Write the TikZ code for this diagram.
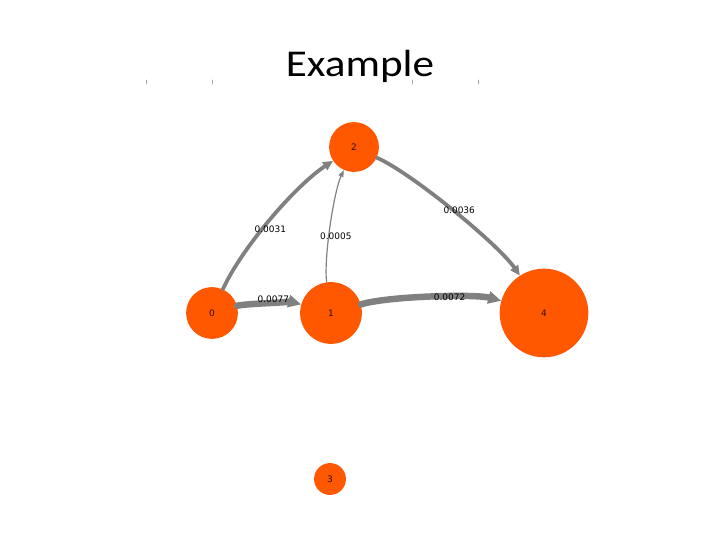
\documentclass[tikz,border=0pt]{standalone}
\usepackage{fontspec}
\setmainfont{Carlito}
\newfontfamily\labelfont{DejaVu Sans}
\usetikzlibrary{arrows.meta}
\definecolor{vertorange}{RGB}{255,88,0}
\definecolor{linkgray}{RGB}{128,128,128}
\definecolor{vertink}{RGB}{50,10,0}
\begin{document}
\begin{tikzpicture}[x=1bp,y=-1bp,line cap=round,line join=round,
  vert/.style={circle,fill=vertorange,inner sep=0pt,text=vertink,font=\labelfont\fontsize{9}{9}\selectfont},
  link/.style={draw=linkgray,bend left=16},
  heavy/.style={link,line width=6.5,-{Triangle[length=13,width=12]}},
  medium/.style={link,line width=3.8,-{Triangle[length=10,width=9]}},
  light/.style={link,line width=1.2,-{Triangle[length=7,width=5]}},
  wt/.style={font=\labelfont\fontsize{9}{9}\selectfont,inner sep=0pt}]
\useasboundingbox (0,0) rectangle (720,540);
\node[font=\fontsize{38}{38}\selectfont,anchor=base,xscale=1.14,transform shape] (title) at (360,77) {Example};
\foreach \x in {146,212,412,478}
  \draw[linkgray!70,line width=0.8] (\x,80) -- (\x,84);
% vertices
\node[vert,minimum size=52] (v0) at (212,313) {0};
\node[vert,minimum size=62] (v1) at (331,313) {1};
\node[vert,minimum size=50] (v2) at (354,147) {2};
\node[vert,minimum size=32] (v3) at (330,479) {3};
\node[vert,minimum size=89] (v4) at (544,313) {4};
% weighted links
\draw[heavy,looseness=0.3] (v0) to node[wt,pos=0.55,yshift=4] {0.0077} (v1);
\draw[heavy,looseness=0.5] (v1) to node[wt,pos=0.61,yshift=-1] {0.0072} (v4);
\draw[medium,looseness=0.69] (v0) to node[wt,pos=0.43,xshift=8] {0.0031} (v2);
\draw[medium,looseness=0.52] (v2) to node[wt,pos=0.5,xshift=6] {0.0036} (v4);
\draw[light,looseness=0.54] (v1) to node[wt,pos=0.42,xshift=7] {0.0005} (v2);
\end{tikzpicture}
\end{document}
